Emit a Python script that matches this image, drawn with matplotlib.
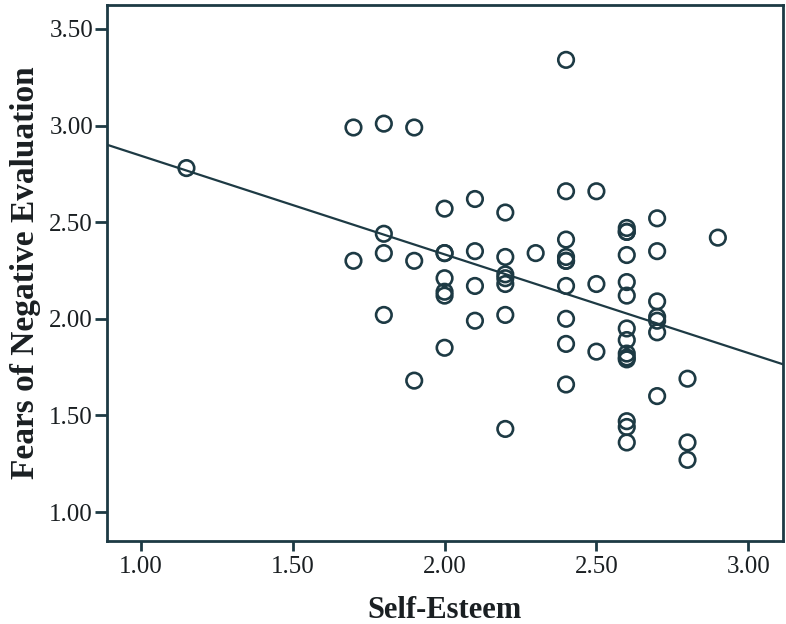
import numpy as np
import matplotlib.pyplot as plt

# Self-Esteem (x) and Fears of Negative Evaluation (y)
self_esteem = [1.15,
               1.7, 1.7,
               1.8, 1.8, 1.8, 1.8,
               1.9, 1.9, 1.9,
               2.0, 2.0, 2.0, 2.0, 2.0, 2.0, 2.0,
               2.1, 2.1, 2.1, 2.1,
               2.2, 2.2, 2.2, 2.2, 2.2, 2.2, 2.2,
               2.3,
               2.4, 2.4, 2.4, 2.4, 2.4, 2.4, 2.4, 2.4, 2.4, 2.4,
               2.5, 2.5, 2.5,
               2.6, 2.6, 2.6, 2.6, 2.6, 2.6, 2.6, 2.6, 2.6, 2.6, 2.6, 2.6, 2.6, 2.6,
               2.7, 2.7, 2.7, 2.7, 2.7, 2.7, 2.7,
               2.8, 2.8, 2.8,
               2.9]
fne = [2.78,
       2.99, 2.30,
       3.01, 2.44, 2.34, 2.02,
       2.99, 2.30, 1.68,
       2.57, 2.34, 2.34, 2.21, 2.14, 2.12, 1.85,
       2.62, 2.35, 2.17, 1.99,
       2.55, 2.32, 2.23, 2.21, 2.18, 2.02, 1.43,
       2.34,
       3.34, 2.66, 2.41, 2.32, 2.30, 2.17, 2.00, 1.87, 1.66, 2.30,
       2.66, 2.18, 1.83,
       2.47, 2.45, 2.33, 2.19, 2.12, 1.95, 1.89, 1.82, 1.80, 1.79, 1.47, 1.44, 1.36, 2.45,
       2.52, 2.35, 2.09, 2.01, 1.99, 1.93, 1.60,
       1.69, 1.36, 1.27,
       2.42]

x = np.array(self_esteem)
y = np.array(fne)

ink = "#1d3a44"
txt = "#1a1f22"
plt.rcParams["font.family"] = ["Liberation Serif", "DejaVu Serif"]

fig = plt.figure(figsize=(7.86, 6.24), dpi=100)
ax = fig.add_axes([0.136, 0.133, 0.86, 0.859])

ax.scatter(x, y, s=125, facecolors="none", edgecolors=ink, linewidths=1.9, zorder=3)

# linear fit line across the whole axis
slope, intercept = np.polyfit(x, y, 1)
xlim = (0.888, 3.114)
xs = np.array(xlim)
ax.plot(xs, intercept + slope * xs, color=ink, linewidth=1.6, zorder=2)

ax.set_xlim(xlim)
ax.set_ylim(0.85, 3.624)
ax.set_xticks([1.0, 1.5, 2.0, 2.5, 3.0])
ax.set_yticks([1.0, 1.5, 2.0, 2.5, 3.0, 3.5])
ax.set_xticklabels(["1.00", "1.50", "2.00", "2.50", "3.00"])
ax.set_yticklabels(["1.00", "1.50", "2.00", "2.50", "3.00", "3.50"])

for sp in ax.spines.values():
    sp.set_color(ink)
    sp.set_linewidth(2)

ax.tick_params(direction="out", width=2, color=ink, labelsize=18, labelcolor=txt)
ax.tick_params(axis="x", length=7, pad=3.5)
ax.tick_params(axis="y", length=9, pad=1)

ax.set_xlabel("Self-Esteem", fontsize=22, fontweight="bold", color=txt, labelpad=13)
ax.set_ylabel("Fears of Negative Evaluation", fontsize=24, fontweight="bold",
              color=txt, labelpad=6)

fig.savefig("out.png", dpi=100)
